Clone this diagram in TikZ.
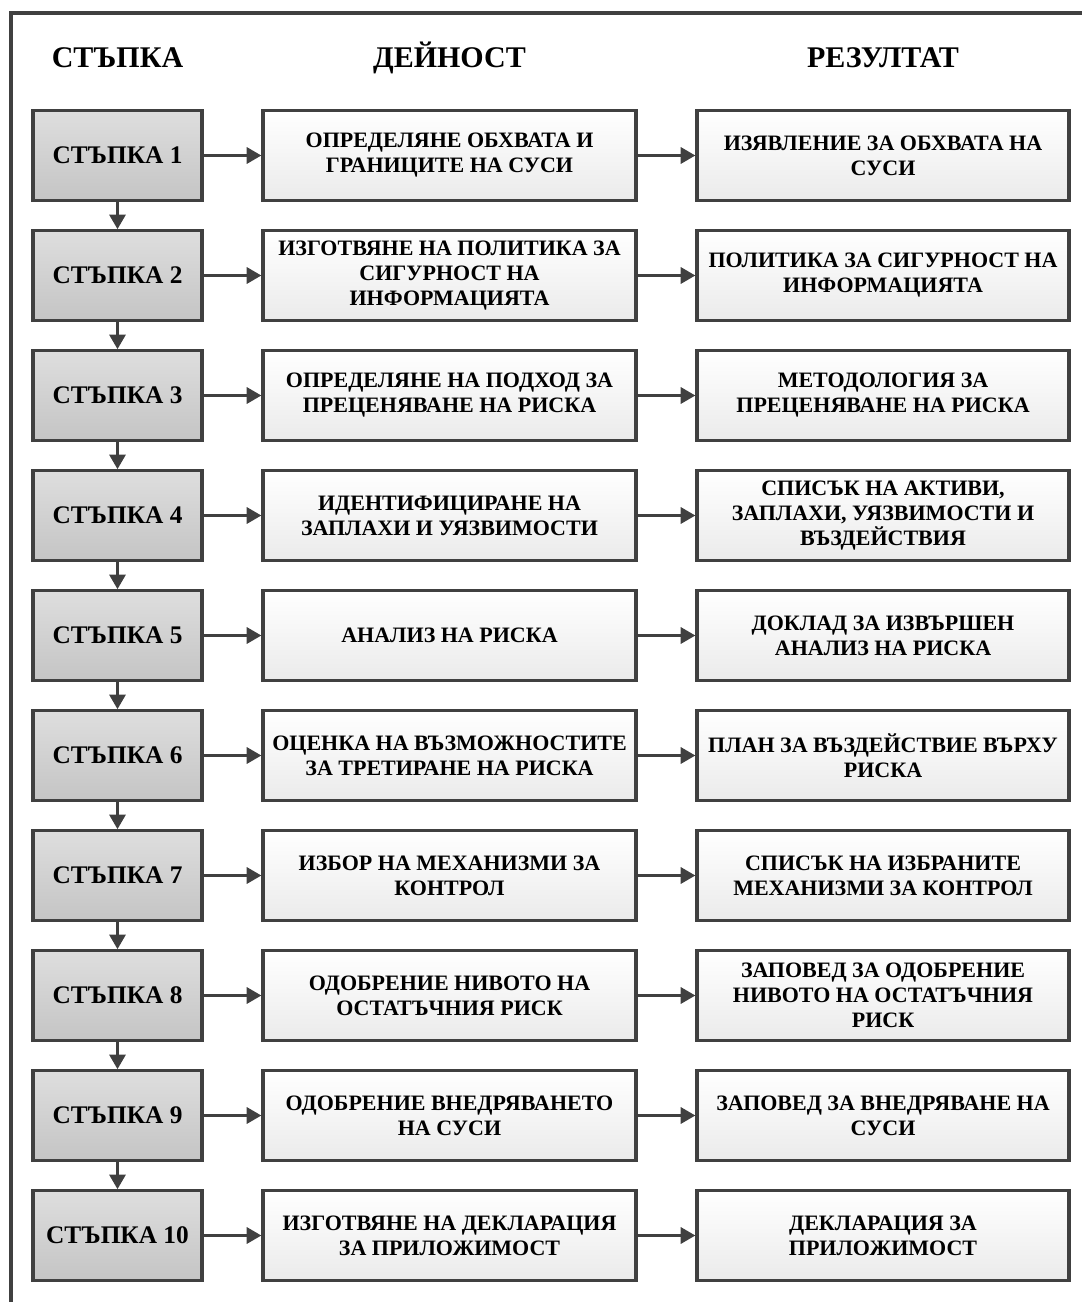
\documentclass[tikz,border=0pt]{standalone}
\usepackage{fontspec}
\setmainfont{Liberation Serif}
\usetikzlibrary{arrows.meta,shadows}
\definecolor{edgegray}{HTML}{404040}
\begin{document}
\begin{tikzpicture}[x=0.75pt, y=-0.75pt,
    head/.style={font=\bfseries\fontsize{22.5}{27}\selectfont},
    stepbox/.style={draw=edgegray, line width=2.4pt, top color=black!13, bottom color=black!23,
                minimum width=126.75pt, minimum height=67pt,
                font=\bfseries\fontsize{19}{22}\selectfont,
                drop shadow={shadow xshift=1.5pt, shadow yshift=-1.5pt, opacity=0.15}},
    box/.style={draw=edgegray, line width=2.4pt, top color=white, bottom color=black!8,
                minimum width=#1, minimum height=67pt, align=center,
                font=\bfseries\fontsize{16.5}{18.75}\selectfont,
                drop shadow={shadow xshift=1.5pt, shadow yshift=-1.5pt, opacity=0.15}},
    arr/.style={-{Triangle[length=11pt,width=12pt]}, draw=edgegray, fill=edgegray, line width=2.4pt},
]
\useasboundingbox (0,0) rectangle (1081,1302);
\draw[edgegray, line width=2.4pt] (11,1310) -- (11,13) -- (1090,13);

% column heads
\node[head] (hstep) at (117.5,58) {СТЪПКА};
\node[head] (hact)  at (449.5,58) {ДЕЙНОСТ};
\node[head] (hres)  at (883,58)   {РЕЗУЛТАТ};

% steps
\node[stepbox] (s1)  at (117.5,155.5)  {СТЪПКА 1};
\node[stepbox] (s2)  at (117.5,275.5)  {СТЪПКА 2};
\node[stepbox] (s3)  at (117.5,395.5)  {СТЪПКА 3};
\node[stepbox] (s4)  at (117.5,515.5)  {СТЪПКА 4};
\node[stepbox] (s5)  at (117.5,635.5)  {СТЪПКА 5};
\node[stepbox] (s6)  at (117.5,755.5)  {СТЪПКА 6};
\node[stepbox] (s7)  at (117.5,875.5)  {СТЪПКА 7};
\node[stepbox] (s8)  at (117.5,995.5)  {СТЪПКА 8};
\node[stepbox] (s9)  at (117.5,1115.5) {СТЪПКА 9};
\node[stepbox] (s10) at (117.5,1235.5) {СТЪПКА 10};

% activities
\node[box=279.75pt] (a1)  at (449.5,155.5)  {ОПРЕДЕЛЯНЕ ОБХВАТА И\\ГРАНИЦИТЕ НА СУСИ};
\node[box=279.75pt] (a2)  at (449.5,275.5)  {ИЗГОТВЯНЕ НА ПОЛИТИКА ЗА\\СИГУРНОСТ НА\\ИНФОРМАЦИЯТА};
\node[box=279.75pt] (a3)  at (449.5,395.5)  {ОПРЕДЕЛЯНЕ НА ПОДХОД ЗА\\ПРЕЦЕНЯВАНЕ НА РИСКА};
\node[box=279.75pt] (a4)  at (449.5,515.5)  {ИДЕНТИФИЦИРАНЕ НА\\ЗАПЛАХИ И УЯЗВИМОСТИ};
\node[box=279.75pt] (a5)  at (449.5,635.5)  {АНАЛИЗ НА РИСКА};
\node[box=279.75pt] (a6)  at (449.5,755.5)  {ОЦЕНКА НА ВЪЗМОЖНОСТИТЕ\\ЗА ТРЕТИРАНЕ НА РИСКА};
\node[box=279.75pt] (a7)  at (449.5,875.5)  {ИЗБОР НА МЕХАНИЗМИ ЗА\\КОНТРОЛ};
\node[box=279.75pt] (a8)  at (449.5,995.5)  {ОДОБРЕНИЕ НИВОТО НА\\ОСТАТЪЧНИЯ РИСК};
\node[box=279.75pt] (a9)  at (449.5,1115.5) {ОДОБРЕНИЕ ВНЕДРЯВАНЕТО\\НА СУСИ};
\node[box=279.75pt] (a10) at (449.5,1235.5) {ИЗГОТВЯНЕ НА ДЕКЛАРАЦИЯ\\ЗА ПРИЛОЖИМОСТ};

% results
\node[box=279pt] (r1)  at (883,155.5)  {ИЗЯВЛЕНИЕ ЗА ОБХВАТА НА\\СУСИ};
\node[box=279pt] (r2)  at (883,275.5)  {ПОЛИТИКА ЗА СИГУРНОСТ НА\\ИНФОРМАЦИЯТА};
\node[box=279pt] (r3)  at (883,395.5)  {МЕТОДОЛОГИЯ ЗА\\ПРЕЦЕНЯВАНЕ НА РИСКА};
\node[box=279pt] (r4)  at (883,515.5)  {СПИСЪК НА АКТИВИ,\\ЗАПЛАХИ, УЯЗВИМОСТИ И\\ВЪЗДЕЙСТВИЯ};
\node[box=279pt] (r5)  at (883,635.5)  {ДОКЛАД ЗА ИЗВЪРШЕН\\АНАЛИЗ НА РИСКА};
\node[box=279pt] (r6)  at (883,755.5)  {ПЛАН ЗА ВЪЗДЕЙСТВИЕ ВЪРХУ\\РИСКА};
\node[box=279pt] (r7)  at (883,875.5)  {СПИСЪК НА ИЗБРАНИТЕ\\МЕХАНИЗМИ ЗА КОНТРОЛ};
\node[box=279pt] (r8)  at (883,995.5)  {ЗАПОВЕД ЗА ОДОБРЕНИЕ\\НИВОТО НА ОСТАТЪЧНИЯ\\РИСК};
\node[box=279pt] (r9)  at (883,1115.5) {ЗАПОВЕД ЗА ВНЕДРЯВАНЕ НА\\СУСИ};
\node[box=279pt] (r10) at (883,1235.5) {ДЕКЛАРАЦИЯ ЗА\\ПРИЛОЖИМОСТ};

\foreach \i in {1,...,10} {
  \draw[arr] (s\i) -- (a\i);
  \draw[arr] (a\i) -- (r\i);
}
\foreach \i/\j in {1/2,2/3,3/4,4/5,5/6,6/7,7/8,8/9,9/10}
  \draw[arr] (s\i) -- (s\j);
\end{tikzpicture}
\end{document}
